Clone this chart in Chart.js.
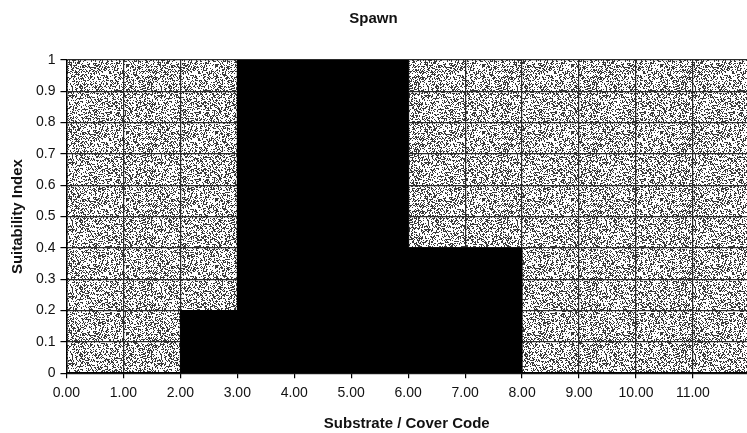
<!DOCTYPE html>
<html lang="en">
  <head>
    <meta charset="utf-8" />
    <title>Spawn</title>
    <style>
      html, body { margin: 0; padding: 0; background: #fff; }
      #wrap { width: 747px; height: 433px; }
    </style>
  </head>
  <body>

<div id="wrap">
  <canvas id="chartSpawn"></canvas>
</div>

<script src="https://cdn.jsdelivr.net/npm/chart.js@4.4.1/dist/chart.umd.min.js"></script>

<script>

// substrate / cover code where each step starts, and its suitability
let codeSteps = [0, 2, 3, 6, 8, 11.95]
let suitability = [0, 0.2, 1.0, 0.4, 0, 0]

let xTicks = [0, 1, 2, 3, 4, 5, 6, 7, 8, 9, 10, 11]

let fontFamily = '"Liberation Sans", Arial, sans-serif'

// speckled grey for the plot area
function makeSpeckle() {
  let c = document.createElement('canvas')
  c.width = 89
  c.height = 67
  let g = c.getContext('2d')
  g.fillStyle = '#ffffff'
  g.fillRect(0, 0, c.width, c.height)
  g.fillStyle = '#3a3a3a'
  for (let y = 0; y < c.height; y++) {
    for (let x = 0; x < c.width; x++) {
      let h = ((x * 374761393) ^ (y * 668265263)) >>> 0
      h = ((h ^ (h >>> 13)) * 1274126177) >>> 0
      if (h % 100 < 34) g.fillRect(x, y, 1, 1)
    }
  }
  return c
}

let plotBackground = {
  id: 'plotBackground',
  beforeDraw(chart) {
    let a = chart.chartArea
    let ctx = chart.ctx
    ctx.save()
    ctx.fillStyle = ctx.createPattern(makeSpeckle(), 'repeat')
    ctx.fillRect(a.left, a.top, a.right - a.left, a.bottom - a.top)
    ctx.restore()
  }
}

let config = {
  type: 'line',
  data: {
    datasets: [
      {
        label: 'Spawn',
        data: codeSteps.map((x, i) => ({ x: x, y: suitability[i] })),
        stepped: 'before',
        borderColor: '#000',
        borderWidth: 1,
        backgroundColor: '#000',
        fill: 'origin',
        pointRadius: 0
      }
    ]
  },
  options: {
    responsive: true,
    maintainAspectRatio: false,
    animation: false,
    layout: { padding: { left: 0, right: 0, top: 0, bottom: 0 } },
    plugins: {
      legend: { display: false },
      tooltip: { enabled: false },
      title: {
        display: true,
        text: 'Spawn',
        color: '#111',
        font: { family: fontFamily, size: 15, weight: 'bold' },
        padding: { top: 10, bottom: 32 }
      }
    },
    scales: {
      x: {
        type: 'linear',
        min: 0,
        max: 11.95,
        afterBuildTicks: function (axis) {
          axis.ticks = xTicks.map(v => ({ value: v }))
        },
        ticks: {
          color: '#111',
          padding: 7,
          maxRotation: 0,
          font: { family: fontFamily, size: 14 },
          callback: v => v.toFixed(2)
        },
        grid: { color: '#2a2a2a', lineWidth: 1.2, tickLength: 5, tickColor: '#000' },
        border: { color: '#000', width: 1.5 },
        title: {
          display: true,
          text: 'Substrate / Cover Code',
          color: '#111',
          font: { family: fontFamily, size: 15, weight: 'bold' },
          padding: { top: 6, bottom: 0 }
        }
      },
      y: {
        min: 0,
        max: 1,
        ticks: {
          stepSize: 0.1,
          color: '#111',
          padding: 5,
          font: { family: fontFamily, size: 14 },
          callback: v => String(+v.toFixed(1))
        },
        grid: { color: '#2a2a2a', lineWidth: 1.2, tickLength: 6, tickColor: '#000' },
        border: { color: '#000', width: 1.5 },
        title: {
          display: true,
          text: 'Suitability Index',
          color: '#111',
          font: { family: fontFamily, size: 15, weight: 'bold' },
          padding: { top: 9, bottom: 4 }
        }
      }
    }
  },
  plugins: [plotBackground]
}

let ctxSpawn = document.getElementById('chartSpawn').getContext('2d')
window.spawnChart = new Chart(ctxSpawn, config)

</script>
  </body>
</html>
